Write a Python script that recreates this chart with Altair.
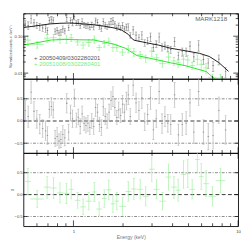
import altair as alt
import pandas as pd

# ---------------- data ----------------
black_E = [0.510, 0.531, 0.553, 0.576, 0.599, 0.624, 0.650, 0.677,
           0.695, 0.714, 0.734, 0.754, 0.774, 0.796, 0.817, 0.839, 0.862, 0.886, 0.910, 0.935,
           0.960, 0.987, 1.013, 1.041, 1.070, 1.099, 1.129, 1.160, 1.191, 1.224, 1.257, 1.291,
           1.327, 1.363, 1.400, 1.438, 1.477, 1.518, 1.560, 1.602, 1.646, 1.691, 1.737, 1.784,
           1.833, 1.883, 1.934, 1.987, 2.041, 2.097, 2.154, 2.213,
           2.305, 2.400, 2.499, 2.602, 2.709, 2.820, 2.937, 3.058, 3.184, 3.315, 3.451, 3.593,
           3.742, 3.896,
           4.112, 4.340, 4.580, 4.834, 5.102, 5.383,
           5.756, 6.158, 6.588, 7.046,
           7.638, 8.395]
black_flux = [0.218, 0.197, 0.302, 0.229, 0.200, 0.183, 0.168, 0.162,
              0.141, 0.270, 0.288, 0.273, 0.134, 0.144, 0.123, 0.130, 0.158, 0.140, 0.318, 0.171,
              0.269, 0.238, 0.344, 0.230, 0.242, 0.193, 0.251, 0.201, 0.191, 0.200, 0.177, 0.206,
              0.180, 0.261, 0.238, 0.178, 0.162, 0.248, 0.202, 0.181, 0.212, 0.254, 0.264, 0.215,
              0.173, 0.194, 0.168, 0.196, 0.158, 0.177, 0.178, 0.107,
              0.148, 0.107, 0.091, 0.108, 0.0667, 0.0754, 0.0965, 0.0490, 0.0622, 0.0952, 0.0512,
              0.0572, 0.0471, 0.0434,
              0.0722, 0.0301, 0.0385, 0.0381, 0.0541, 0.0276,
              0.0579, 0.0235, 0.0188, 0.0159,
              0.0239, 0.0109]
black_res = [0.24, 0.10, 0.65, 0.22, 0.04, -0.07, -0.17, -0.22,
             -0.33, 0.26, 0.33, 0.25, -0.39, -0.35, -0.45, -0.42, -0.30, -0.38, 0.40, -0.25,
             0.18, 0.05, 0.52, 0.02, 0.09, -0.12, 0.16, -0.06, -0.10, -0.05, -0.15, 0.00,
             -0.12, 0.30, 0.20, -0.08, -0.15, 0.32, 0.10, 0.00, 0.20, 0.46, 0.55, 0.30,
             0.08, 0.25, 0.12, 0.38, 0.20, 0.45, 0.59, 0.10,
             0.81, 0.41, 0.24, 0.52, -0.02, 0.15, 0.52, -0.20, 0.05, 0.67, -0.06, 0.10,
             -0.05, -0.08,
             0.59, -0.31, -0.08, -0.05, 0.41, -0.25,
             0.67, -0.25, -0.35, -0.33,
             0.24, -0.20]
black_err = [0.22, 0.24, 0.25, 0.22, 0.20, 0.22, 0.20, 0.22,
             0.20, 0.18, 0.20, 0.18, 0.18, 0.20, 0.16, 0.18, 0.20, 0.18, 0.22, 0.18,
             0.18, 0.20, 0.20, 0.16, 0.18, 0.17, 0.18, 0.16, 0.17, 0.18, 0.16, 0.17,
             0.18, 0.20, 0.18, 0.16, 0.18, 0.20, 0.18, 0.16, 0.18, 0.20, 0.22, 0.18,
             0.16, 0.18, 0.16, 0.20, 0.18, 0.20, 0.22, 0.18,
             0.24, 0.22, 0.20, 0.24, 0.20, 0.22, 0.26, 0.22, 0.20, 0.28, 0.22, 0.22,
             0.20, 0.22,
             0.28, 0.24, 0.25, 0.26, 0.30, 0.26,
             0.32, 0.28, 0.30, 0.30,
             0.30, 0.32]

green_E = [0.529, 0.602, 0.692, 0.757, 0.828, 0.906, 0.969, 1.060, 1.144, 1.240, 1.339, 1.433,
           1.539, 1.639, 1.737, 1.833, 1.987, 2.154, 2.326, 2.543, 2.746, 2.989, 3.197, 3.475,
           3.778, 4.074, 4.322, 4.660, 4.946, 5.262, 5.656, 5.970, 6.387, 6.983, 7.816]
green_lo = [0.506, 0.548, 0.662, 0.724, 0.792, 0.867, 0.937, 1.018, 1.099, 1.191, 1.295, 1.376,
            1.488, 1.585, 1.680, 1.773, 1.896, 2.069, 2.234, 2.442, 2.637, 2.870, 3.069, 3.315,
            3.628, 3.926, 4.179, 4.507, 4.782, 5.066, 5.472, 5.775, 6.140, 6.596, 7.311]
green_hi = [0.553, 0.661, 0.724, 0.791, 0.866, 0.948, 1.003, 1.103, 1.191, 1.291, 1.385, 1.492,
            1.591, 1.696, 1.796, 1.896, 2.083, 2.243, 2.423, 2.648, 2.858, 3.112, 3.328, 3.642,
            3.933, 4.242, 4.470, 4.820, 5.116, 5.479, 5.851, 6.175, 6.651, 7.370, 8.360]
green_flux = [0.0788, 0.0594, 0.0885, 0.0914, 0.0840, 0.0839, 0.0907, 0.0698, 0.0575, 0.0674,
              0.0833, 0.0496, 0.0634, 0.0730, 0.0491, 0.0489, 0.0369, 0.0453, 0.0380, 0.0321,
              0.0254, 0.0392, 0.0260, 0.0181, 0.0273, 0.0214, 0.0193, 0.0238, 0.0226, 0.0160,
              0.0238, 0.0173, 0.0139, 0.0077, 0.0073]
green_res = [0.30, -0.10, 0.17, 0.15, 0.04, 0.03, 0.12, -0.13, -0.28, -0.15, 0.06, -0.33,
             -0.09, 0.11, -0.21, -0.15, -0.27, 0.07, 0.13, 0.12, -0.04, 0.58, 0.12, -0.15,
             0.40, 0.17, 0.10, 0.46, 0.48, 0.12, 0.80, 0.41, 0.25, -0.04, 0.32]
green_err = [0.30, 0.20, 0.25, 0.24, 0.23, 0.23, 0.22, 0.18, 0.18, 0.20, 0.22, 0.16,
             0.20, 0.22, 0.20, 0.20, 0.20, 0.22, 0.24, 0.22, 0.22, 0.28, 0.22, 0.20,
             0.30, 0.25, 0.25, 0.32, 0.32, 0.22, 0.30, 0.30, 0.30, 0.22, 0.28]

model_black_E = [0.497, 0.553, 0.633, 0.724, 0.828, 0.948, 1.084, 1.327, 1.518, 1.737, 1.960,
                 2.154, 2.245, 2.334, 2.780, 3.271, 3.896, 4.765, 5.835, 6.677, 7.638, 8.74]
model_black = [0.173, 0.183, 0.199, 0.216, 0.224, 0.228, 0.220, 0.204, 0.188, 0.170, 0.147,
               0.112, 0.0896, 0.078, 0.0663, 0.0578, 0.0472, 0.0405, 0.0343, 0.0283, 0.0193, 0.0112]
model_green_E = [0.497, 0.576, 0.734, 0.886, 1.084, 1.327, 1.737, 2.069, 2.274, 2.432, 2.858,
                 3.896, 4.765, 6.412, 7.142, 7.539]
model_green = [0.0578, 0.0645, 0.0790, 0.0817, 0.0800, 0.0790, 0.0621, 0.0472, 0.0359, 0.0299,
               0.0258, 0.0190, 0.0160, 0.0110, 0.0072, 0.0060]

x_major = [1, 10]
x_minor = [0.6, 0.7, 0.8, 0.9, 2, 3, 4, 5, 6, 7, 8, 9]
y1_major = [0.01, 0.1]
y1_minor = [0.008, 0.009, 0.02, 0.03, 0.04, 0.05, 0.06, 0.07, 0.08, 0.09, 0.2, 0.3, 0.4]
yr_major = [-0.5, 0.0, 0.5]
ratio_dotted = [-0.5, 0.5]
ratio_zero = [0.0]
legend_labels = ["+ 20050409/0302280201", "+ 20051008/0302280401"]
source_name = ["MARK1218"]

# ---------------- layout / style ----------------
W = 223
H1, H2, H3 = 68, 77, 76
FONT = "Liberation Sans"
C_BLK_DATA = "#7a7a7a"
C_BLK_RES = "#b0b0b0"
C_GRN_DATA = "#77ee77"
C_GRN_RES = "#a0f0a0"
C_GRN_MODEL = "#22e622"

xs = alt.Scale(type="log", domain=[0.4966, 10], nice=False)
ys1 = alt.Scale(type="log", domain=[0.0070, 0.416], nice=False)
ysr = alt.Scale(domain=[-0.72, 0.95], nice=False, zero=False)

bk = pd.DataFrame({"E": black_E, "flux": black_flux, "res": black_res, "err": black_err})
bk["flo"] = bk["flux"] * (1 - bk["err"])
bk["fhi"] = bk["flux"] * (1 + bk["err"])
bk["rlo"] = bk["res"] - bk["err"]
bk["rhi"] = bk["res"] + bk["err"]

gr = pd.DataFrame({"E": green_E, "lo": green_lo, "hi": green_hi, "flux": green_flux,
                   "res": green_res, "err": green_err})
gr["flo"] = gr["flux"] * (1 - gr["err"])
gr["fhi"] = gr["flux"] * (1 + gr["err"])
gr["rlo"] = gr["res"] - gr["err"]
gr["rhi"] = gr["res"] + gr["err"]

mb = pd.DataFrame({"E": model_black_E, "m": model_black})
mg = pd.DataFrame({"E": model_green_E, "m": model_green})

# ---------------- axes (one object per panel, reused in every layer) ----------------
y1_axis = alt.Axis(values=y1_major, labelExpr="datum.value < 0.05 ? '0.01' : '0.10'",
                   ticks=False, domain=False, grid=False, labelFontSize=4.3, labelPadding=1.3,
                   labelFlush=False, labelColor="#444", labelFont=FONT,
                   title="Normalized counts s⁻¹ keV⁻¹", titleFontSize=3.6, titleFont=FONT,
                   titleFontWeight="normal", titlePadding=1.2, titleColor="#444")


def ratio_axis(title):
    kw = dict(values=yr_major,
              labelExpr="datum.value == 0 ? '0.0' : (datum.value > 0 ? '0.5' : '\u22120.5')",
              ticks=False, domain=False, grid=False, labelFontSize=4.3, labelPadding=1.3,
              labelFlush=False, labelColor="#444", labelFont=FONT)
    if title:
        kw.update(title=title, titleFontSize=4.2, titleFontWeight="normal", titlePadding=0.5,
                  titleColor="#444", titleFont=FONT)
    else:
        kw.update(title=None)
    return alt.Axis(**kw)


yr_axis_mid = ratio_axis(None)
yr_axis_bot = ratio_axis("χ")

x_axis_bot = alt.Axis(values=x_major, labelExpr="datum.value < 5 ? '1' : '10'",
                      ticks=False, domain=False, grid=False, labelFontSize=4.5, labelPadding=3,
                      labelFlush=False, labelColor="#444", labelFont=FONT,
                      title="Energy (keV)", titleFontSize=5.2, titleFontWeight="normal",
                      titlePadding=1.5, titleColor="#777", titleFont=FONT)


def make_enc(xaxis, yscale, yaxis):
    def X(f):
        return alt.X(f, type="quantitative", scale=xs, axis=xaxis)

    def Y(f):
        return alt.Y(f, type="quantitative", scale=yscale, axis=yaxis)
    return X, Y


def frame_ticks(X, Y, H, ymaj, ymin, ymaj_len, ymin_len):
    layers = []
    for vals, L in ((x_major, 6), (x_minor, 3)):
        d = alt.Chart(pd.DataFrame({"v": vals}))
        layers.append(d.mark_rule(color="black", strokeWidth=0.7).encode(
            x=X("v"), y=alt.value(H), y2=alt.value(H - L)))
        layers.append(d.mark_rule(color="black", strokeWidth=0.7).encode(
            x=X("v"), y=alt.value(0), y2=alt.value(L)))
    for vals, L in ((ymaj, ymaj_len), (ymin, ymin_len)):
        if not vals:
            continue
        d = alt.Chart(pd.DataFrame({"v": vals}))
        layers.append(d.mark_rule(color="black", strokeWidth=0.7).encode(
            y=Y("v"), x=alt.value(0), x2=alt.value(L)))
        layers.append(d.mark_rule(color="black", strokeWidth=0.7).encode(
            y=Y("v"), x=alt.value(W), x2=alt.value(W - L)))
    return layers


bkc = alt.Chart(bk)
grc = alt.Chart(gr)

# ---------------- top panel ----------------
X, Y = make_enc(None, ys1, y1_axis)
top_layers = [
    bkc.mark_rule(color=C_BLK_DATA, strokeWidth=0.6, clip=True).encode(
        x=X("E"), y=Y("flo"), y2="fhi"),
    bkc.mark_tick(orient="horizontal", size=2.4, thickness=0.6, color=C_BLK_DATA, clip=True).encode(
        x=X("E"), y=Y("flo")),
    bkc.mark_tick(orient="horizontal", size=2.4, thickness=0.6, color=C_BLK_DATA, clip=True).encode(
        x=X("E"), y=Y("fhi")),
    bkc.mark_tick(orient="horizontal", size=1.6, thickness=0.7, color="#444", clip=True).encode(
        x=X("E"), y=Y("flux")),
    grc.mark_rule(color=C_GRN_DATA, strokeWidth=0.6, clip=True).encode(
        x=X("lo"), x2="hi", y=Y("flux")),
    grc.mark_rule(color=C_GRN_DATA, strokeWidth=0.6, clip=True).encode(
        x=X("E"), y=Y("flo"), y2="fhi"),
    grc.mark_tick(orient="horizontal", size=2.4, thickness=0.6, color=C_GRN_DATA, clip=True).encode(
        x=X("E"), y=Y("flo")),
    grc.mark_tick(orient="horizontal", size=2.4, thickness=0.6, color=C_GRN_DATA, clip=True).encode(
        x=X("E"), y=Y("fhi")),
    alt.Chart(mb).mark_line(color="#1a1a1a", strokeWidth=1, clip=True).encode(
        x=X("E"), y=Y("m")),
    alt.Chart(mg).mark_line(color=C_GRN_MODEL, strokeWidth=1, clip=True).encode(
        x=X("E"), y=Y("m")),
    alt.Chart(pd.DataFrame({"t": source_name})).mark_text(
        align="center", baseline="middle", fontSize=6.5, color="#666", font=FONT).encode(
        text="t:N", x=alt.value(195), y=alt.value(6)),
    alt.Chart(pd.DataFrame({"t": legend_labels[:1]})).mark_text(
        align="left", baseline="middle", fontSize=6.2, color="#555", font=FONT).encode(
        text="t:N", x=alt.value(11), y=alt.value(46)),
    alt.Chart(pd.DataFrame({"t": legend_labels[1:]})).mark_text(
        align="left", baseline="middle", fontSize=6.2, color=C_GRN_DATA, font=FONT).encode(
        text="t:N", x=alt.value(11), y=alt.value(53)),
] + frame_ticks(X, Y, H1, y1_major, y1_minor, 5, 2.5)

top = alt.layer(*top_layers).properties(width=W, height=H1)


# ---------------- residual panels ----------------
def guide_lines(Y):
    return [
        alt.Chart(pd.DataFrame({"v": ratio_dotted})).mark_rule(
            color="#555", strokeWidth=0.7, strokeDash=[3, 1.5, 1, 1.5]).encode(y=Y("v")),
        alt.Chart(pd.DataFrame({"v": ratio_zero})).mark_rule(
            color="black", strokeWidth=0.8, strokeDash=[4, 2.5]).encode(y=Y("v")),
    ]


X, Y = make_enc(None, ysr, yr_axis_mid)
mid_layers = guide_lines(Y) + [
    bkc.mark_rule(color=C_BLK_RES, strokeWidth=0.7, clip=True).encode(
        x=X("E"), y=Y("rlo"), y2="rhi"),
    bkc.mark_tick(orient="horizontal", size=2.4, thickness=0.6, color=C_BLK_RES, clip=True).encode(
        x=X("E"), y=Y("rlo")),
    bkc.mark_tick(orient="horizontal", size=2.4, thickness=0.6, color=C_BLK_RES, clip=True).encode(
        x=X("E"), y=Y("rhi")),
    bkc.mark_tick(orient="horizontal", size=1.5, thickness=0.8, color="#666", clip=True).encode(
        x=X("E"), y=Y("res")),
] + frame_ticks(X, Y, H2, yr_major, [], 4, 0)

mid = alt.layer(*mid_layers).properties(width=W, height=H2)

X, Y = make_enc(x_axis_bot, ysr, yr_axis_bot)
bot_layers = guide_lines(Y) + [
    grc.mark_rule(color=C_GRN_RES, strokeWidth=0.7, clip=True).encode(
        x=X("E"), y=Y("rlo"), y2="rhi"),
    grc.mark_rule(color=C_GRN_RES, strokeWidth=0.7, clip=True).encode(
        x=X("lo"), x2="hi", y=Y("res")),
    grc.mark_tick(orient="horizontal", size=2.4, thickness=0.6, color=C_GRN_RES, clip=True).encode(
        x=X("E"), y=Y("rlo")),
    grc.mark_tick(orient="horizontal", size=2.4, thickness=0.6, color=C_GRN_RES, clip=True).encode(
        x=X("E"), y=Y("rhi")),
] + frame_ticks(X, Y, H3, yr_major, [], 4, 0)

bot = alt.layer(*bot_layers).properties(width=W, height=H3)

chart = alt.vconcat(top, mid, bot, spacing=0, bounds="flush").properties(padding=0).configure(
    font=FONT).configure_view(stroke="black", strokeWidth=0.9)

chart.save("out.html", embed_options={"renderer": "svg", "actions": False})
